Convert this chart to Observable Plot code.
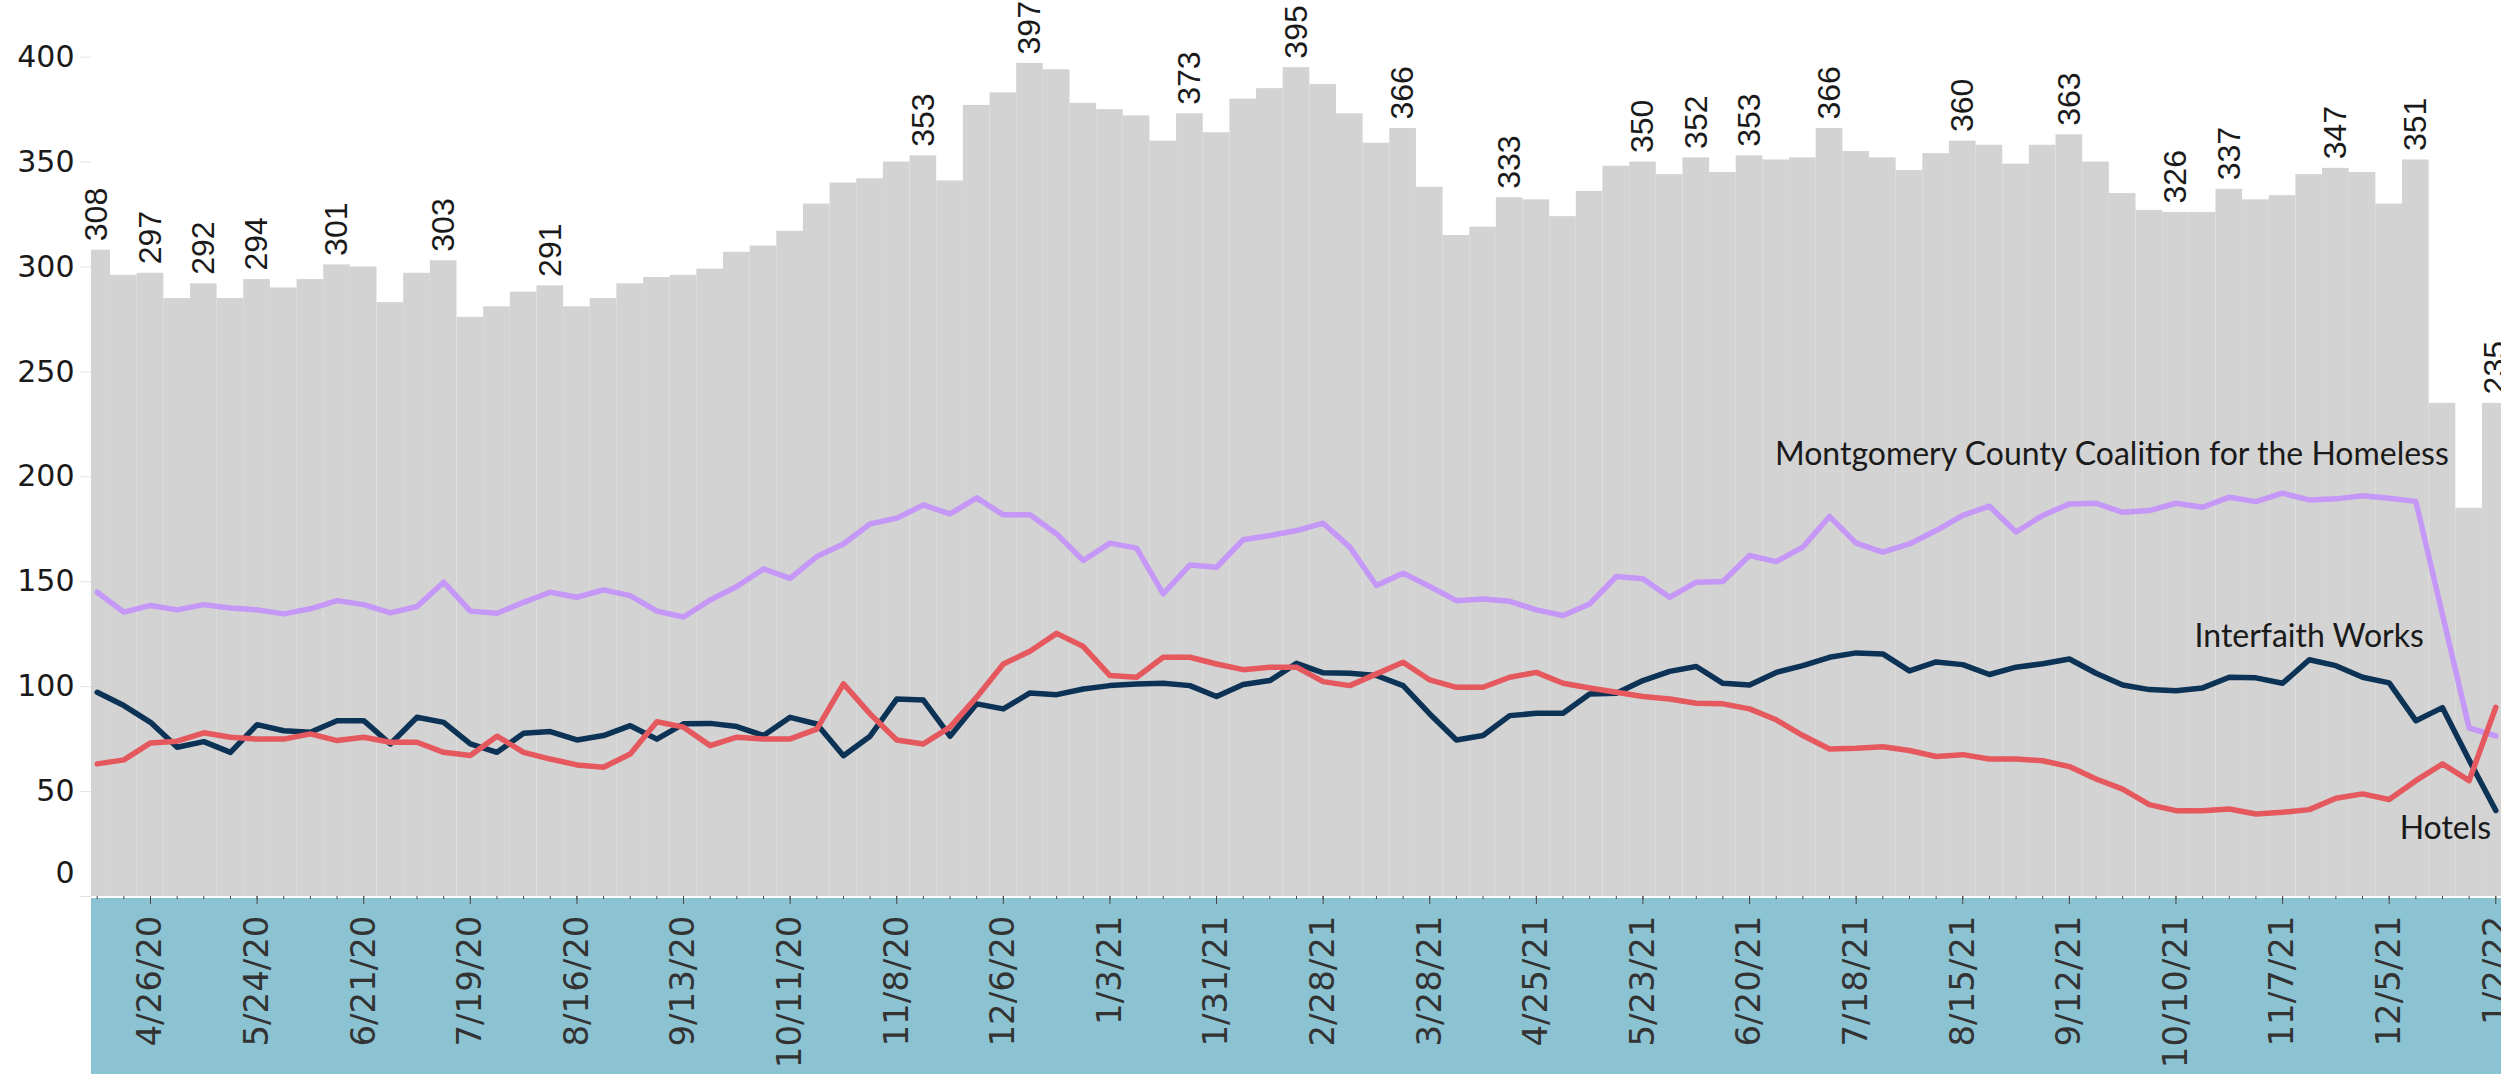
<!DOCTYPE html>
<html>
<head>
<meta charset="utf-8">
<script src="https://cdn.jsdelivr.net/npm/d3@7"></script>
<script src="https://cdn.jsdelivr.net/npm/@observablehq/plot@0.6"></script>
<style>
  html, body { margin: 0; padding: 0; background: #fff; }
  #chart svg { display: block; overflow: visible; }
</style>
</head>
<body>
<div id="chart"></div>
<script>
// ---------- DATA ----------
const START = "2020-04-12"; // first weekly observation (weeks run to 1/2/22)

// Total people sheltered (gray stepped bars)
const totals = [
  308, 296, 297, 285, 292, 285, 294, 290, 294, 301,
  300, 283, 297, 303, 276, 281, 288, 291, 281, 285,
  292, 295, 296, 299, 307, 310, 317, 330, 340, 342,
  350, 353, 341, 377, 383, 397, 394, 378, 375, 372,
  360, 373, 364, 380, 385, 395, 387, 373, 359, 366,
  338, 315, 319, 333, 332, 324, 336, 348, 350, 344,
  352, 345, 353, 351, 352, 366, 355, 352, 346, 354,
  360, 358, 349, 358, 363, 350, 335, 327, 326, 326,
  337, 332, 334, 344, 347, 345, 330, 351, 235, 185,
  235
];

// Montgomery County Coalition for the Homeless
const mcch = [
  145, 135.5, 138.7, 136.6, 139.1, 137.5, 136.6, 134.7, 137.1, 141,
  139.1, 135.2, 138.2, 149.8, 136, 135, 140.2, 145, 142.6, 146.1,
  143.4, 136, 133.2, 141.3, 147.7, 156.1, 151.6, 162, 168, 177.6,
  180.3, 186.6, 182.3, 190, 181.9, 181.9, 172.8, 160.1, 168.4, 166,
  144.2, 158, 156.9, 170, 172, 174.4, 177.9, 166.5, 148.2, 154.1,
  147.7, 141, 141.8, 140.7, 136.6, 133.9, 139.4, 152.5, 151.4, 142.6,
  149.8, 150.1, 162.5, 159.6, 166.5, 181.1, 168.4, 164.1, 168, 174.4,
  181.6, 186, 173.7, 181.6, 187.1, 187.4, 183.1, 183.9, 187.4, 185.5,
  190.3, 188.2, 192.2, 189, 189.5, 191, 189.8, 188.3, 134.3, 80.3,
  76.5
];

// Interfaith Works
const interfaith = [
  97.3, 91, 83, 71.1, 73.8, 68.7, 81.9, 79, 78.3, 83.8,
  83.8, 72.7, 85.4, 83, 72.7, 68.7, 77.8, 78.6, 74.6, 76.7,
  81.4, 75, 82.3, 82.5, 81, 76.7, 85.4, 82.2, 67.1, 76.4,
  94.1, 93.6, 76.4, 91.8, 89.4, 97, 96.2, 98.9, 100.5, 101.3,
  101.6, 100.5, 95.3, 101, 102.9, 111.1, 106.6, 106.4, 105.3, 100.5,
  87, 74.6, 76.7, 86.2, 87.3, 87.3, 96.5, 96.9, 102.9, 107.3,
  109.6, 101.6, 100.8, 106.8, 110, 114, 116.1, 115.6, 107.5, 111.8,
  110.5, 105.8, 109.3, 110.9, 113.2, 106.4, 100.8, 98.6, 98.1, 99.4,
  104.5, 104.2, 101.6, 112.8, 110, 104.5, 101.8, 83.8, 90, 65,
  41
];

// Hotels
const hotels = [
  63.2, 65.1, 73.2, 74, 78, 75.9, 75, 75, 77.5, 74.3,
  75.9, 73.5, 73.5, 68.7, 67.2, 76.4, 68.7, 65.5, 62.7, 61.6,
  67.9, 83.3, 80.7, 71.9, 75.9, 75.1, 75.1, 79.8, 101.3, 87,
  74.6, 72.7, 80.7, 95, 110.8, 116.9, 125.4, 119.1, 105.3, 104.5,
  114, 114, 110.8, 108.1, 109.3, 109.3, 102.4, 100.5, 106.1, 111.6,
  103.2, 99.7, 99.7, 104.5, 106.8, 101.6, 99.4, 97.3, 95.3, 94.1,
  92.1, 91.8, 89.4, 84.2, 76.7, 70.3, 70.7, 71.4, 69.6, 66.7,
  67.6, 65.5, 65.5, 64.7, 61.9, 56, 51.2, 43.8, 40.9, 40.9,
  41.7, 39.3, 40.1, 41.4, 46.8, 48.9, 46.2, 55.2, 63.2, 55.2,
  90.2
];

// weeks whose total is printed above the bar
const labeledWeeks = [0, 2, 4, 6, 9, 13, 17, 31, 35, 41, 45, 49, 53, 58, 60, 62, 65, 70, 74, 78, 80, 84, 87, 90];

const seriesNames = ["Montgomery County Coalition for the Homeless", "Interfaith Works", "Hotels"];
const seriesColors = ["#c597f6", "#0c3356", "#e4585e"];
const yTicks = [0, 50, 100, 150, 200, 250, 300, 350, 400];

// ---------- BUILD ----------
const dates = totals.map((_, i) => d3.utcDay.offset(new Date(START), 7 * i));
const weeks = dates.map((d, i) => ({date: d, total: totals[i], i}));
const seriesValues = [mcch, interfaith, hotels];
const lineData = seriesNames.flatMap((name, s) =>
  seriesValues[s].map((v, i) => ({date: dates[i], value: v, name})));
const majorTicks = dates.filter((d, i) => i % 4 === 2);
const fmt = d3.utcFormat("%-m/%-d/%y");

const W = 2501, H = 1074, ML = 91, MB = 178;

function band(index, scales, values, dimensions) {
  const {width, height, marginLeft, marginBottom} = dimensions;
  return d3.create("svg:rect")
    .attr("x", marginLeft)
    .attr("y", height - marginBottom + 2)
    .attr("width", width - marginLeft)
    .attr("height", marginBottom - 2)
    .attr("fill", "#8cc3d3")
    .node();
}

const labelFont = "Lato, 'Open Sans', sans-serif";

const chart = Plot.plot({
  width: W,
  height: H,
  marginLeft: ML,
  marginRight: 0,
  marginTop: 0,
  marginBottom: MB,
  style: {background: "transparent", overflow: "visible"},
  x: {type: "utc", domain: [d3.utcHour.offset(dates[0], -36), d3.utcHour.offset(dates[dates.length - 1], 36)], label: null},
  y: {domain: [0, 427], label: null},
  color: {domain: seriesNames, range: seriesColors},
  marks: [
    band,
    Plot.rectY(weeks, {
      x1: d => d3.utcHour.offset(d.date, -84),
      x2: d => d3.utcHour.offset(d.date, 84),
      y: "total",
      fill: "#d3d3d3",
      clip: true
    }),
    Plot.text(weeks.filter(d => labeledWeeks.includes(d.i)), {
      x: "date", y: "total", text: d => String(d.total),
      rotate: -90, textAnchor: "start", lineAnchor: "middle", dy: -9,
      fontSize: 32, fontFamily: "'Liberation Sans', Arial, sans-serif", fill: "#1a1a1a"
    }),
    Plot.line(lineData, {
      x: "date", y: "value", z: "name", stroke: "name",
      strokeWidth: 5.5, strokeLinejoin: "round", strokeLinecap: "round"
    }),
    // series labels, anchored to points of the series
    Plot.text([{date: dates[87], value: mcch[87]}], {
      x: "date", y: "value", text: () => seriesNames[0],
      textAnchor: "end", lineAnchor: "middle", dx: 33, dy: -47,
      fontSize: 32, fontFamily: labelFont, fill: "#1a1a1a"
    }),
    Plot.text([{date: dates[87], value: interfaith[87]}], {
      x: "date", y: "value", text: () => seriesNames[1],
      textAnchor: "end", lineAnchor: "middle", dx: 8, dy: -84,
      fontSize: 32, fontFamily: labelFont, fill: "#1a1a1a"
    }),
    Plot.text([{date: dates[89], value: hotels[89]}], {
      x: "date", y: "value", text: () => seriesNames[2],
      textAnchor: "end", lineAnchor: "middle", dx: 22, dy: 48,
      fontSize: 32, fontFamily: labelFont, fill: "#1a1a1a"
    }),
    // y axis
    Plot.axisY({
      ticks: yTicks, tickFormat: d => d === 0 ? "" : String(d),
      tickSize: 11, tickPadding: 6, stroke: "#e2e2e2", fill: "#1a1a1a",
      fontSize: 30, fontFamily: "'DejaVu Sans', sans-serif", label: null
    }),
    Plot.text([0], {
      y: d => d, frameAnchor: "left", text: d => String(d),
      textAnchor: "end", dx: -17, dy: -23,
      fontSize: 30, fontFamily: "'DejaVu Sans', sans-serif", fill: "#1a1a1a"
    }),
    // x axis: weekly minor ticks, 4-weekly labelled ticks
    Plot.axisX({
      ticks: dates, tickSize: 3, tickFormat: () => "", stroke: "#444", label: null
    }),
    Plot.axisX({
      ticks: majorTicks, tickFormat: fmt, tickRotate: -90,
      tickSize: 8, tickPadding: 11, stroke: "#444", fill: "#333",
      fontSize: 34, fontFamily: "'DejaVu Sans', sans-serif", label: null
    })
  ]
});

document.getElementById("chart").appendChild(chart);
</script>
</body>
</html>
